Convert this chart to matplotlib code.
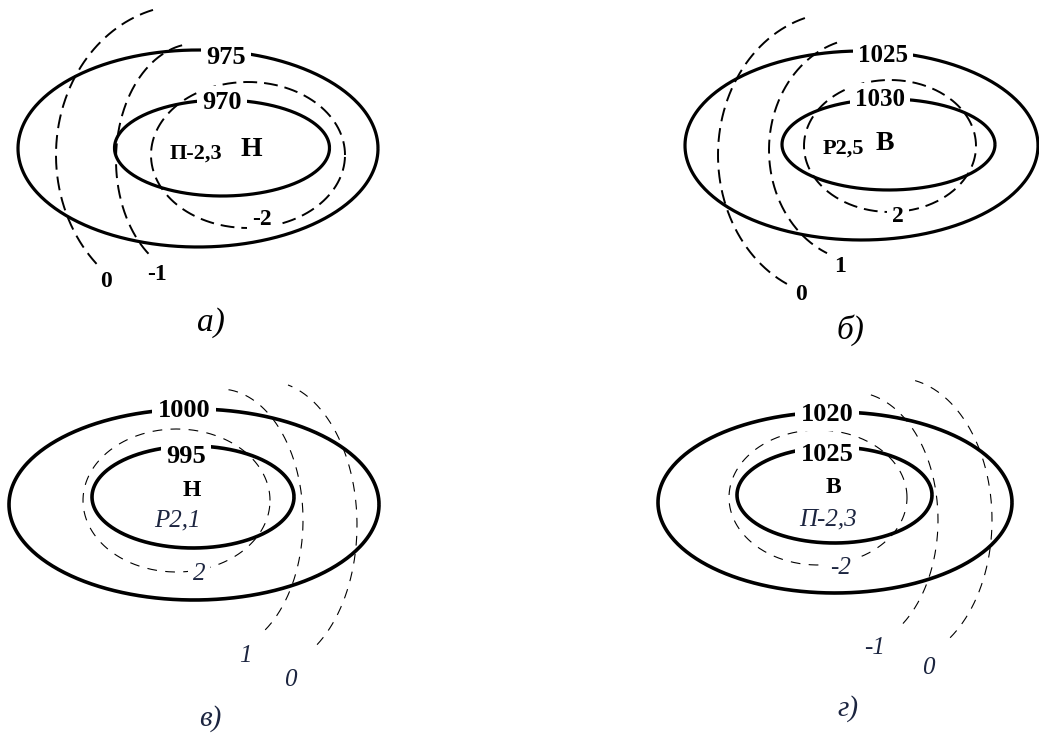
import numpy as np
import matplotlib.pyplot as plt

plt.rcParams['font.family'] = ['Liberation Serif', 'DejaVu Serif']
plt.rcParams['lines.scale_dashes'] = False

# подписи и значения
panel_names = ['а)', 'б)', 'в)', 'г)']
isobar_vals = [[975, 970], [1025, 1030], [1000, 995], [1020, 1025]]
isallo_vals = [['-2', '-1', '0'], ['2', '1', '0'], ['2', '1', '0'], ['-2', '-1', '0']]
centre_txt = ['Н', 'В', 'Н', 'В']
tend_txt = ['П-2,3', 'Р2,5', 'Р2,1', 'П-2,3']

# геометрия в пикселях (cx, cy, a, b)
isobar_geom = [
    [(198, 148.5, 180, 98.5), (222, 148, 107.5, 48)],
    [(861.5, 145.5, 176.5, 94.5), (888.5, 144.5, 106.5, 45.5)],
    [(194, 504.5, 185, 95.5), (193, 497, 101, 51)],
    [(835, 502.5, 177, 90.5), (834.5, 495, 97.5, 48)],
]
isobar_lab_xy = [[(226, 55), (222, 100)], [(883, 53), (880, 97)],
                 [(184, 408), (186, 454)], [(827, 412), (827, 452)]]
isobar_lab_size = [19, 18, 19, 19]

# изаллобары: замкнутый эллипс + две дуги (cx, cy, a, b, t1, t2)
isallo_geom = [
    [(248, 155, 97, 73, 0, 360), (196, 160, 80, 116.5, 100, 236.6), (186, 155, 130, 150, 104.7, 228.6)],
    [(890, 146, 86, 66, 0, 360), (864, 150, 95, 112, 106.5, 247.1), (838, 155, 120, 142.5, 106, 244.8)],
    [(176.5, 500.5, 93.5, 71.5, 0, 360), (220, 520, 83, 131, -57, 85), (267, 525, 90, 144, -56.2, 76.5)],
    [(818, 497.5, 89, 67.5, 0, 360), (853, 520, 85, 128, -54, 80.5), (897, 520, 95, 142, -56, 79)],
]
isallo_lab_xy = [[(262, 217), (157, 272), (106, 279)],
                 [(898, 214), (840, 264), (801, 292)],
                 [(199, 572), (245, 653), (290, 677)],
                 [(841, 566), (875, 645), (928, 665)]]

centre_xy = [(251, 147), (885, 141), (192, 488), (833, 485)]
tend_xy = [(196, 151), (843, 146), (177, 518), (828, 517)]
name_xy = [(211, 319), (850, 327), (210, 716), (848, 706)]

navy = '#1c2540'

fig = plt.figure(figsize=(10.39, 7.33), dpi=100)
ax = fig.add_axes([0, 0, 1, 1])
ax.set_xlim(0, 1039)
ax.set_ylim(733, 0)
ax.axis('off')


def curve(cx, cy, a, b, t1, t2, **kw):
    t = np.radians(np.linspace(t1, t2, 400))
    ax.plot(cx + a * np.cos(t), cy - b * np.sin(t), **kw)


def label(x, y, s, size, box=False, **kw):
    # y - центр надписи, переводим в базовую линию
    bb = dict(boxstyle='square,pad=0.2', fc='white', ec='none') if box else None
    ax.text(x, y + 0.34 * size * 100 / 72, s, fontsize=size, ha='center',
            va='baseline', bbox=bb, zorder=4, **kw)


for i in range(4):
    top = i < 2
    # изобары
    for (cx, cy, a, b), v, (lx, ly) in zip(isobar_geom[i], isobar_vals[i], isobar_lab_xy[i]):
        lw = 2.3 if top else 2.6
        curve(cx, cy, a, b, 0, 360, color='black', lw=lw, solid_capstyle='butt')
        label(lx, ly, str(v), isobar_lab_size[i], box=True, fontweight='bold')
    # изаллобары
    for (cx, cy, a, b, t1, t2), v, (lx, ly) in zip(isallo_geom[i], isallo_vals[i], isallo_lab_xy[i]):
        if top:
            curve(cx, cy, a, b, t1, t2, color='black', lw=1.4, linestyle=(0, (10, 5)))
            label(lx, ly, v, 17, box=True, fontweight='bold')
        else:
            curve(cx, cy, a, b, t1, t2, color='black', lw=0.8, linestyle=(0, (7, 6)))
            label(lx, ly, v, 18, box=True, fontstyle='italic', color=navy)
    # центр и тенденция
    if top:
        label(*centre_xy[i], centre_txt[i], 20, fontweight='bold')
        label(*tend_xy[i], tend_txt[i], 16, fontweight='bold')
        label(*name_xy[i], panel_names[i], 24, fontstyle='italic')
    else:
        label(*centre_xy[i], centre_txt[i], 17, fontweight='bold')
        label(*tend_xy[i], tend_txt[i], 18, fontstyle='italic', color=navy)
        label(*name_xy[i], panel_names[i], 21, fontstyle='italic', color=navy)

fig.savefig('out.png', dpi=100, facecolor='white')
